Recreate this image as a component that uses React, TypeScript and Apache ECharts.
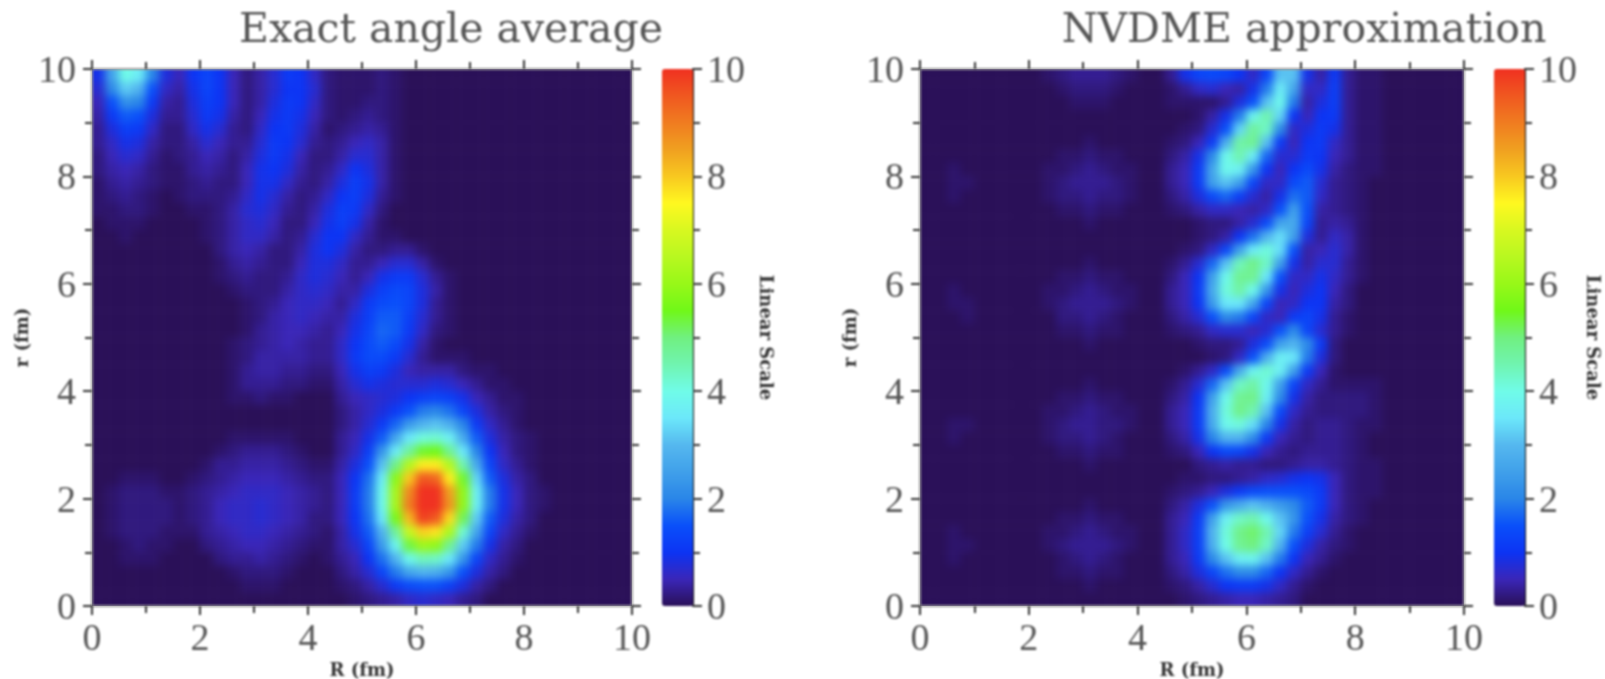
import React, { useEffect, useRef } from "react";
import * as echarts from "echarts";

// colour stops, one per 0.5 on the 0–10 scale
const palette = ["#2a1058","#3a26b8","#0c34f4","#0a50fa","#2a86e8","#40a0ea","#55b8ef","#6ce8fa","#70fce8","#70f4b0","#70f080","#70f818","#98f818","#b8f820","#d8f820","#fff820","#f8c820","#f0a020","#f07c20","#f05820","#f03020"];
const tickLabels = ["0", "2", "4", "6", "8", "10"];
const titles = ["Exact angle average", "NVDME approximation"];

// cell values in tenths; rows r = 9.875 (top) … 0.125, step 0.25.
// each row is [columns R = 0.125 … 4.375], [columns R = 4.625 …]; missing cells are 0
const exactRows: number[][][] = [
[[9,26,40,36,20,8,5,10,13,10,5,2,4,7,11,10,6,2],[1,1,1,2,1]],
[[7,21,32,29,15,6,4,9,13,10,5,2,4,7,10,10,7,2],[1,1,1,2,1]],
[[5,15,22,20,11,4,3,8,12,10,5,2,4,8,11,10,6,2],[1,1,2,2,1]],
[[4,11,16,15,8,3,3,7,11,9,4,2,5,9,11,9,5,2],[1,2,3,2,1]],
[[3,8,12,11,6,2,2,6,9,7,3,2,6,10,11,8,4,1],[2,3,4,3,1]],
[[3,6,9,8,4,2,2,4,7,5,3,3,7,11,10,7,3,2],[3,5,6,4,1]],
[[2,5,7,6,3,1,2,3,5,4,2,4,8,11,9,5,2,2],[4,7,7,4,1]],
[[2,4,5,4,2,1,1,3,4,3,2,5,9,10,8,4,2,3],[6,10,8,4,1]],
[[1,3,4,3,2,1,1,2,3,2,2,5,9,9,6,3,2,4],[8,12,9,4,1]],
[[1,2,3,2,1,0,1,2,2,2,3,6,9,7,4,2,3,6],[10,12,8,3,1]],
[[1,1,2,2,1,0,0,1,1,2,4,7,8,6,3,2,4,8],[12,11,6,2]],
[[0,1,1,1,0,0,0,0,1,2,4,6,7,5,2,2,5,9],[12,9,4,1]],
[[0,0,1,0,0,0,0,0,1,2,4,6,6,4,2,3,7,10],[10,6,3,1,1]],
[[0,0,0,0,0,0,0,0,0,2,4,5,4,2,2,4,8,10],[8,4,2,2,3,3,1]],
[[0,0,0,0,0,0,0,0,0,1,3,4,3,2,2,5,8,8],[6,3,3,5,7,7,4,1]],
[[0,0,0,0,0,0,0,0,0,1,2,3,2,2,3,6,8,7],[5,3,5,9,11,11,7,3,1]],
[[0,0,0,0,0,0,0,0,0,0,1,2,2,2,4,6,7,6],[4,4,8,12,14,13,8,4,1]],
[[0,0,0,0,0,0,0,0,0,0,0,1,2,3,5,6,6,5],[3,6,11,14,15,13,8,3,1]],
[[0,0,0,0,0,0,0,0,0,0,0,1,2,4,5,6,5,4],[4,8,12,16,16,12,7,3,1]],
[[0,0,0,0,0,0,0,0,0,0,0,1,3,4,5,5,4,3],[5,9,13,17,16,11,6,2,1]],
[[0,0,0,0,0,0,0,0,0,0,1,2,3,4,5,4,3,3],[6,10,14,16,14,9,4,1]],
[[0,0,0,0,0,0,0,0,0,0,1,2,4,4,4,4,3,3],[6,11,14,14,11,7,3,1,1,1]],
[[0,0,0,0,0,0,0,0,0,0,1,3,4,4,3,3,2,2],[5,9,12,11,8,5,4,4,4,2,1,1]],
[[0,0,0,0,0,0,0,0,0,0,1,3,3,3,2,2,1,1],[4,7,9,8,7,7,7,8,7,5,3,1,1]],
[[0,0,0,0,0,0,0,0,0,0,1,1,2,1,1],[3,5,6,7,8,10,12,13,12,9,5,3,1,1]],
[[],[2,4,6,8,11,15,19,20,18,13,8,4,2,1]],
[[],[2,4,7,11,17,24,29,31,28,20,11,6,3,1]],
[[0,0,0,0,0,0,0,0,0,0,1,1,1,1,1],[3,5,9,16,26,35,41,42,37,27,16,8,4,2,1]],
[[0,0,0,0,0,0,0,0,0,1,2,3,3,3,2,1],[3,6,12,23,36,47,54,55,48,35,20,10,5,2,1]],
[[0,0,0,0,0,0,0,0,1,3,3,4,4,4,3,2,1,1],[4,8,15,31,49,64,76,76,64,45,27,13,6,3,1]],
[[0,0,1,1,1,0,0,1,2,3,4,5,5,5,4,3,2,2],[5,10,18,36,58,80,95,93,76,54,33,16,8,4,2]],
[[0,1,2,2,2,1,1,2,3,4,5,6,6,6,5,4,3,2],[5,11,19,39,62,88,106,103,85,59,37,19,9,5,2,1]],
[[0,1,2,2,2,2,1,2,3,5,6,6,7,6,5,4,3,2],[5,11,19,39,62,90,109,106,87,59,37,19,9,5,2,1]],
[[0,1,2,2,2,2,1,2,3,5,6,6,7,6,5,4,2,2],[5,10,18,35,56,82,98,95,78,52,32,16,8,4,2]],
[[0,1,2,2,2,1,1,1,3,4,5,6,6,5,4,3,2,1],[4,9,16,29,47,67,79,77,63,42,26,13,6,3,1]],
[[0,0,1,2,1,1,0,0,2,3,4,5,5,4,3,2,1,1],[4,7,13,24,38,53,61,59,48,32,19,9,4,2]],
[[0,0,1,1,1,0,0,0,0,2,3,3,4,3,2,1,0,1],[3,5,10,18,29,39,44,43,35,23,13,6,3,1]],
[[0,0,0,0,0,0,0,0,0,0,1,2,2,2,1],[2,4,7,13,19,26,29,28,23,15,8,4,2]],
[[0,0,0,0,0,0,0,0,0,0,0,1,1,1],[1,2,4,7,11,14,15,15,12,8,4,2]],
[[],[0,1,2,3,4,6,7,6,5,3,2]],
];
const nvdmeRows: number[][][] = [
[[0,0,0,0,0,0,0,0,0,1,2,3,3,3,2,1],[3,9,13,14,13,10,6,13,31,31,9,4,11,3,1,1]],
[[0,0,0,0,0,0,0,0,0,0,1,2,2,2,1],[1,3,6,7,5,4,9,19,36,26,6,6,12,3,1,1]],
[[0,0,0,0,0,0,0,0,0,0,0,1,1,1],[1,1,1,1,3,8,15,31,39,19,4,8,12,3,1,1]],
[[],[0,0,1,4,9,19,38,45,33,10,5,10,11,3,1,1]],
[[],[0,1,2,7,15,33,47,43,21,6,8,11,9,3,1,1]],
[[0,0,0,0,0,0,0,0,0,0,0,0,1],[1,2,5,11,28,46,48,31,11,5,10,11,6,3,1,1]],
[[0,0,0,0,0,0,0,0,0,0,1,1,2,1,1],[2,4,9,21,39,45,36,17,7,7,11,10,5,3,1,1]],
[[0,0,1,0,0,0,0,0,0,1,1,2,3,2,1,1],[3,5,11,26,39,37,23,10,5,10,14,9,4,2,1,1]],
[[0,0,1,1,0,0,0,0,0,1,2,3,3,3,2,1],[3,5,11,25,31,25,13,6,6,14,16,7,3,2,1]],
[[0,0,1,0,0,0,0,0,0,1,2,2,3,2,2,1],[2,4,8,14,17,12,7,4,9,18,16,6,3,2,1]],
[[0,0,0,0,0,0,0,0,0,0,1,1,2,1,1],[1,2,4,6,6,5,4,6,15,25,15,4,3,2,1]],
[[0,0,0,0,0,0,0,0,0,0,0,0,1],[0,0,1,2,2,4,7,14,26,27,13,3,4,3,1]],
[[],[0,0,1,2,4,10,18,29,34,25,8,3,6,4,1]],
[[],[0,1,2,6,13,25,36,41,34,15,4,5,7,4,1]],
[[0,0,0,0,0,0,0,0,0,0,0,0,1],[1,3,7,17,31,44,49,43,25,9,4,7,7,3,1]],
[[0,0,0,0,0,0,0,0,0,0,1,1,2,1,1],[2,5,10,25,39,48,48,35,15,6,6,9,6,3,1]],
[[0,0,1,0,0,0,0,0,0,1,1,2,3,2,1,1],[3,5,11,27,41,46,39,23,9,5,8,10,5,2]],
[[0,0,1,1,0,0,0,0,0,1,2,3,3,3,2,1],[3,5,10,24,35,35,26,13,5,6,10,10,4,2]],
[[0,0,0,1,0,0,0,0,0,0,2,2,3,2,1],[2,4,7,15,21,19,13,6,5,11,13,9,3,1]],
[[0,0,0,0,0,0,0,0,0,0,1,1,2,1,1],[1,2,3,6,7,7,5,7,15,21,13,7,3,1]],
[[0,0,0,0,0,0,0,0,0,0,0,0,1],[0,0,1,2,2,3,8,14,25,29,21,11,2]],
[[],[0,0,0,1,2,6,15,28,37,35,19,8,2]],
[[],[0,1,3,6,14,27,38,42,37,25,11,5,1]],
[[0,0,0,0,0,0,0,0,0,0,0,0,1],[1,3,7,17,31,43,46,39,25,13,6,3,1,1,1,1]],
[[0,0,0,0,0,0,0,0,0,0,1,1,2,1,1],[2,4,10,25,39,48,49,37,21,9,4,2,2,2,2,1]],
[[0,0,0,0,0,0,0,0,0,1,1,2,3,2,1,1],[3,5,11,28,41,49,45,31,14,6,3,2,2,2,2,1]],
[[0,0,1,1,0,0,0,0,0,1,2,3,3,2,2,1],[3,5,11,27,39,41,34,20,9,4,2,3,3,2,1,1]],
[[0,0,1,0,0,0,0,0,0,1,2,2,3,2,1],[2,4,9,20,29,29,21,11,5,3,2,3,3,2,1]],
[[0,0,0,0,0,0,0,0,0,0,1,1,2,1,1],[1,2,5,10,14,13,9,5,3,2,3,3,3,2,1]],
[[0,0,0,0,0,0,0,0,0,0,0,0,1],[0,0,2,3,4,3,3,2,2,3,4,4,3,2,1,1]],
[[],[0,1,1,2,2,3,4,6,7,9,10,9,5,2,1,1]],
[[],[1,2,3,5,8,11,14,15,15,15,14,11,5,2,1,1]],
[[0,0,0,0,0,0,0,0,0,0,0,0,1],[2,4,8,15,23,27,31,28,24,21,16,11,5,2,1]],
[[0,0,0,0,0,0,0,0,0,0,1,1,2,1,1],[3,5,11,25,37,43,45,39,31,23,15,9,4,2,1]],
[[0,0,1,0,0,0,0,0,0,1,1,2,3,2,1,1],[3,6,12,29,41,49,51,45,33,19,12,7,3,1]],
[[0,0,1,1,0,0,0,0,0,1,2,3,3,3,2,1],[3,6,12,28,40,48,50,43,29,15,8,4,2,1]],
[[0,0,1,0,0,0,0,0,0,0,1,2,3,2,1],[3,5,11,21,31,37,38,31,19,10,5,3,1]],
[[0,0,0,0,0,0,0,0,0,0,1,1,2,1,1],[2,4,8,13,18,21,21,17,10,6,3,1]],
[[0,0,0,0,0,0,0,0,0,0,0,0,1],[1,2,4,7,10,11,11,9,6,3,1]],
[[],[0,1,2,3,4,5,5,4,3,2]],
];

const W = 1605, H = 679;
const TOP = 69, PLOT_H = 537;
const COLS = 40, SPLIT = 18;
const panels = [
  { left: 92, width: 540, barLeft: 662, rows: exactRows, titleX: 451, scaleGap: 64 },
  { left: 920, width: 544, barLeft: 1494, rows: nvdmeRows, titleX: 1304, scaleGap: 59 },
];
const BAR_W = 31;
const SERIF = "'Liberation Serif', serif";
const WIDE = "'DejaVu Serif', serif";
const INK = "#555";

function expand(pair: number[][]) {
  const out: number[] = [];
  for (let i = 0; i < COLS; i++) {
    out.push(i < SPLIT ? pair[0][i] ?? 0 : pair[1][i - SPLIT] ?? 0);
  }
  return out;
}

function heatOption() {
  const grid: any[] = [], xAxis: any[] = [], yAxis: any[] = [], series: any[] = [];
  panels.forEach((p, i) => {
    const rows = p.rows.map(expand);
    const n = rows.length, cw = p.width / COLS, ch = PLOT_H / n;
    // one repeated cell on every side, so that the blur does not fade at the clip edge
    const padded = [rows[0], ...rows, rows[n - 1]].map((r) => [r[0], ...r, r[COLS - 1]]);
    grid.push({ left: p.left - cw, top: TOP - ch, width: p.width + 2 * cw, height: PLOT_H + 2 * ch, outerBoundsMode: "none" });
    const cats = padded.map((_, k) => String(k));
    xAxis.push({ type: "category", gridIndex: i, data: cats, show: false });
    yAxis.push({ type: "category", gridIndex: i, data: cats, show: false, inverse: true });
    const data: number[][] = [];
    padded.forEach((row, y) => row.forEach((v, x) => data.push([x, y, v / 10])));
    series.push({ type: "heatmap", xAxisIndex: i, yAxisIndex: i, data, silent: true, itemStyle: { borderWidth: 0 } });
  });
  return {
    animation: false,
    grid, xAxis, yAxis, series,
    visualMap: { show: false, min: 0, max: 10, seriesIndex: [0, 1], inRange: { color: palette } },
  };
}

function overlayOption() {
  const grid: any[] = [], xAxis: any[] = [], yAxis: any[] = [], title: any[] = [];
  const valueAxis = { type: "value", min: 0, max: 10, interval: 2 };
  const line = { show: true, onZero: false, lineStyle: { color: "#9a9a9a", width: 2 } };
  const tick = { show: true, length: 9, lineStyle: { color: "#333", width: 2 } };
  const minor = { show: true, splitNumber: 2, length: 7, lineStyle: { color: "#333", width: 2 } };
  const label = { show: true, fontFamily: SERIF, fontSize: 38, color: INK, formatter: (v: number) => tickLabels[v / 2] };
  const axisName = { fontFamily: WIDE, fontWeight: "bold" as const, fontSize: 18, color: "#333" };
  panels.forEach((p, i) => {
    const g = i * 2;
    grid.push({ left: p.left, top: TOP, width: p.width, height: PLOT_H, outerBoundsMode: "none" });
    grid.push({ left: p.barLeft, top: TOP, width: BAR_W, height: PLOT_H, outerBoundsMode: "none" });
    xAxis.push({ ...valueAxis, gridIndex: g, position: "bottom", axisLine: line, axisTick: tick, minorTick: minor, splitLine: { show: false },
      axisLabel: { ...label, margin: 12, hideOverlap: false }, name: "R (fm)", nameLocation: "middle", nameGap: 52, nameTextStyle: axisName });
    xAxis.push({ ...valueAxis, gridIndex: g, position: "top", axisLine: line, axisTick: tick, minorTick: minor, splitLine: { show: false }, axisLabel: { show: false } });
    yAxis.push({ ...valueAxis, gridIndex: g, position: "left", axisLine: line, axisTick: tick, minorTick: minor, splitLine: { show: false },
      axisLabel: { ...label, margin: 16 }, name: "r (fm)", nameLocation: "middle", nameGap: 62, nameRotate: 90, nameTextStyle: axisName });
    yAxis.push({ ...valueAxis, gridIndex: g, position: "right", axisLine: line, axisTick: tick, minorTick: minor, splitLine: { show: false }, axisLabel: { show: false } });
    xAxis.push({ ...valueAxis, gridIndex: g + 1, show: false });
    yAxis.push({ ...valueAxis, gridIndex: g + 1, position: "right",
      axisLine: { show: true, onZero: false, lineStyle: { color: "#111", width: 2 } }, axisTick: tick, minorTick: minor, splitLine: { show: false },
      axisLabel: { ...label, margin: 14 }, name: "Linear Scale", nameLocation: "middle", nameGap: p.scaleGap, nameRotate: -90, nameTextStyle: axisName });
    title.push({ text: titles[i], left: p.titleX, top: 7, textAlign: "center", padding: 0,
      textStyle: { fontFamily: WIDE, fontWeight: "normal", fontSize: 41, color: INK } });
  });
  return {
    animation: false,
    backgroundColor: "transparent",
    title, grid, xAxis, yAxis,
    series: [{ type: "scatter", xAxisIndex: 0, yAxisIndex: 0, data: [], silent: true }],
    visualMap: panels.map((p) => ({
      show: true, type: "continuous", min: 0, max: 10, seriesIndex: [], left: p.barLeft, top: TOP, itemWidth: BAR_W, itemHeight: PLOT_H,
      padding: 0, calculable: false, hoverLink: false, text: ["", ""], textGap: 0, inRange: { color: palette },
    })),
  };
}

export default function App() {
  const heatRef = useRef<HTMLDivElement>(null);
  const overRef = useRef<HTMLDivElement>(null);
  useEffect(() => {
    const heat = echarts.init(heatRef.current!, undefined, { renderer: "svg" });
    const over = echarts.init(overRef.current!, undefined, { renderer: "svg" });
    heat.setOption(heatOption());
    over.setOption(overlayOption());
    return () => { heat.dispose(); over.dispose(); };
  }, []);
  const clip = panels.map((p) => `M${p.left} ${TOP}H${p.left + p.width}V${TOP + PLOT_H}H${p.left}Z`).join(" ");
  return (
    <div style={{ position: "fixed", left: 0, top: 0, width: W, height: H, background: "#fff", overflow: "hidden" }}>
      <div style={{ position: "absolute", inset: 0, clipPath: `path("${clip}")` }}>
        <div ref={heatRef} style={{ width: W, height: H, filter: "blur(4px)" }} />
      </div>
      <div ref={overRef} style={{ position: "absolute", left: 0, top: 0, width: W, height: H, filter: "blur(0.9px)" }} />
    </div>
  );
}
